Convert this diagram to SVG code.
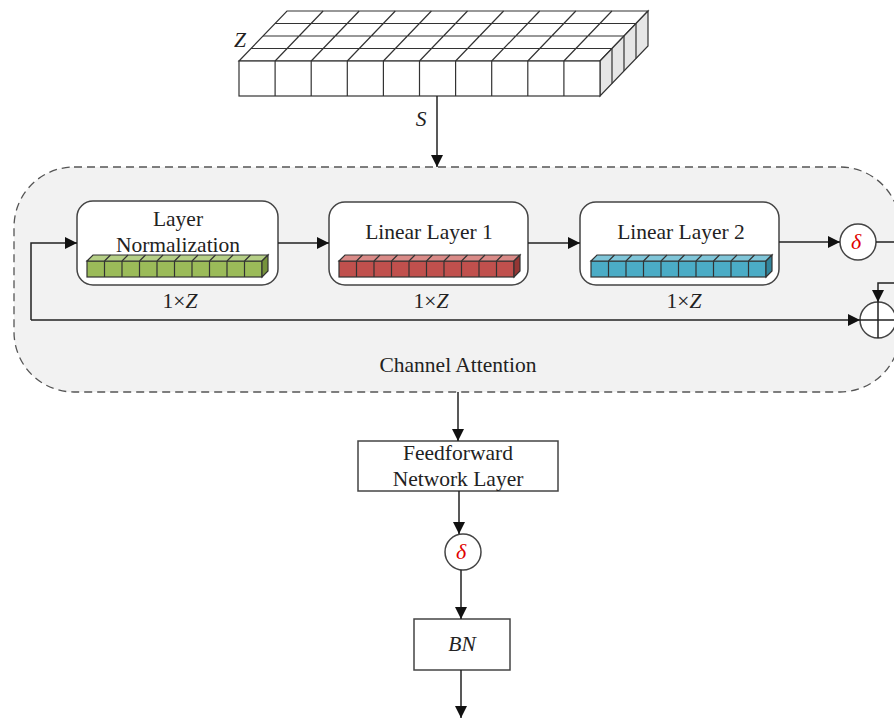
<svg xmlns="http://www.w3.org/2000/svg" xmlns:xlink="http://www.w3.org/1999/xlink" width="894" height="719" viewBox="0 0 894 719">
<style>
  .t { font-family: "Liberation Serif", "Times New Roman", serif; font-size: 21.5px; fill: #222; text-anchor: middle; }
  .i { font-style: italic; }
  .d { font-family: "Liberation Serif", "Times New Roman", serif; font-size: 22px; font-style: italic; fill: #e00000; text-anchor: middle; }
  .box { fill: #fff; stroke: #444; stroke-width: 1.5; }
  .ln { fill: none; stroke: #222; stroke-width: 1.5; }
  .cube { stroke: #333; stroke-width: 1.2; }
  .grid { fill: none; stroke: #333; stroke-width: 1.2; }
</style>
<defs>
  <marker id="ah" viewBox="0 0 10 10" refX="10" refY="5" markerWidth="12" markerHeight="12" markerUnits="userSpaceOnUse" orient="auto">
    <path d="M0,0 L10,5 L0,10 z" fill="#111"/>
  </marker>
  <g id="bar">
    <rect x="0" y="0" width="175" height="16" class="cube" style="fill:var(--f)"/>
    <path d="M0,0 L6,-6 L181,-6 L175,0 z" class="cube" style="fill:var(--t)"/>
    <path d="M175,0 L181,-6 L181,10 L175,16 z" class="cube" style="fill:var(--s)"/>
    <path d="M17.5,0 v16 M35,0 v16 M52.5,0 v16 M70,0 v16 M87.5,0 v16 M105,0 v16 M122.5,0 v16 M140,0 v16 M157.5,0 v16 M17.5,0 l6,-6 M35,0 l6,-6 M52.5,0 l6,-6 M70,0 l6,-6 M87.5,0 l6,-6 M105,0 l6,-6 M122.5,0 l6,-6 M140,0 l6,-6 M157.5,0 l6,-6" class="grid"/>
  </g>
</defs>

<!-- input tensor block -->
<g id="input-block">
  <path d="M239,61 L287,11 L648,11 L600,61 z" fill="#fff" class="cube"/>
  <path d="M600,61 L648,11 L648,46 L600,96 z" fill="#e6e6e6" class="cube"/>
  <rect x="239" y="61" width="361" height="35" fill="#fff" class="cube"/>
  <path class="grid" d="
    M275.1,61 v35 M311.2,61 v35 M347.3,61 v35 M383.4,61 v35 M419.5,61 v35 M455.6,61 v35 M491.7,61 v35 M527.8,61 v35 M563.9,61 v35
    M251,48.5 H612 M263,36 H624 M275,23.5 H636
    M275.1,61 L323.1,11 M311.2,61 L359.2,11 M347.3,61 L395.3,11 M383.4,61 L431.4,11 M419.5,61 L467.5,11 M455.6,61 L503.6,11 M491.7,61 L539.7,11 M527.8,61 L575.8,11 M563.9,61 L611.9,11
    M612,48.5 V83.5 M624,36 V71 M636,23.5 V58.5"/>
  <text x="240" y="47" class="t i">Z</text>
  <text x="421" y="126" class="t i">S</text>
</g>

<!-- channel attention container -->
<g id="channel-attention">
  <rect x="14" y="167" width="886" height="225" rx="60" ry="60" fill="#f2f2f2" stroke="#555" stroke-width="1.3" stroke-dasharray="8,5"/>
  <text x="458" y="372" class="t">Channel Attention</text>
</g>

<g id="layer-norm">
  <rect x="77" y="201" width="201" height="84" rx="16" class="box"/>
  <text x="178" y="226" class="t">Layer</text>
  <text x="178" y="252" class="t">Normalization</text>
  <use xlink:href="#bar" x="87" y="261" style="--f:#9bbb59;--t:#b5cf86;--s:#76923c"/>
  <text x="180" y="308" class="t">1×<tspan class="i">Z</tspan></text>
</g>

<g id="linear-1">
  <rect x="329" y="202" width="199" height="83" rx="16" class="box"/>
  <text x="429" y="239" class="t">Linear Layer 1</text>
  <use xlink:href="#bar" x="339" y="261" style="--f:#c0504d;--t:#d98a87;--s:#943634"/>
  <text x="431" y="308" class="t">1×<tspan class="i">Z</tspan></text>
</g>

<g id="linear-2">
  <rect x="580" y="202" width="199" height="83" rx="16" class="box"/>
  <text x="681" y="239" class="t">Linear Layer 2</text>
  <use xlink:href="#bar" x="591" y="261" style="--f:#4bacc6;--t:#7fc5d8;--s:#31859c"/>
  <text x="684" y="308" class="t">1×<tspan class="i">Z</tspan></text>
</g>

<g id="delta-1">
  <circle cx="858" cy="242" r="18" class="box"/>
  <text x="856" y="249" class="d">δ</text>
</g>

<g id="add">
  <circle cx="878" cy="320" r="18" class="box"/>
  <path d="M860,320 H896 M878,302 V338" class="ln"/>
</g>

<g id="feedforward">
  <rect x="358" y="441" width="200" height="50" class="box"/>
  <text x="458" y="460" class="t">Feedforward</text>
  <text x="458" y="486" class="t">Network Layer</text>
</g>

<g id="delta-2">
  <circle cx="463" cy="552" r="18" class="box"/>
  <text x="461" y="559" class="d">δ</text>
</g>

<g id="bn">
  <rect x="414" y="619" width="96" height="51" class="box"/>
  <text x="462" y="651" class="t i">BN</text>
</g>

<!-- connectors -->
<g id="connectors" class="ln">
  <path d="M437,96 V167" marker-end="url(#ah)"/>
  <path d="M278,243 H329" marker-end="url(#ah)"/>
  <path d="M528,243 H580" marker-end="url(#ah)"/>
  <path d="M779,242 H840" marker-end="url(#ah)"/>
  <path d="M876,242 H905 V283 H878 V302" marker-end="url(#ah)"/>
  <path d="M31,320 V243 H77" marker-end="url(#ah)"/>
  <path d="M31,320 H860" marker-end="url(#ah)"/>
  <path d="M458,392 V441" marker-end="url(#ah)"/>
  <path d="M459,491 V534" marker-end="url(#ah)"/>
  <path d="M461,570 V619" marker-end="url(#ah)"/>
  <path d="M461,670 V718" marker-end="url(#ah)"/>
</g>
</svg>
